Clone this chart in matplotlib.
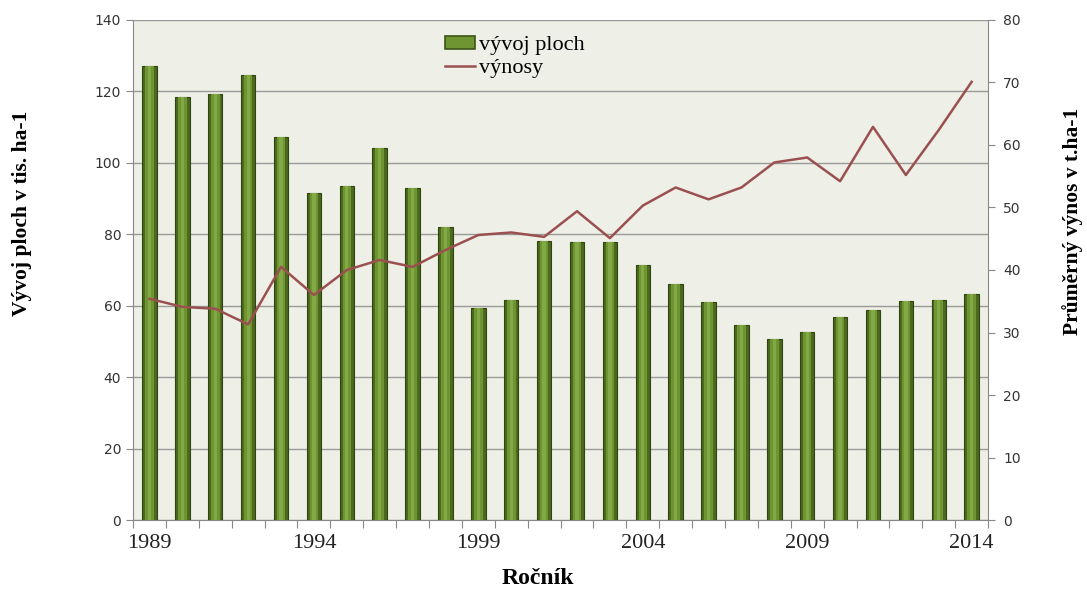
import numpy as np
import matplotlib
matplotlib.use("Agg")
import matplotlib.pyplot as plt
from matplotlib.patches import Patch

# data
years = list(range(1989, 2015))
plochy = [127.1, 118.5, 119.2, 124.7, 107.3, 91.6, 93.5, 104.1, 92.9, 82.0,
          59.5, 61.6, 78.2, 77.9, 77.9, 71.4, 66.0, 61.1, 54.6, 50.8,
          52.6, 56.9, 58.8, 61.3, 61.6, 63.3]
vynosy = [35.4, 34.1, 33.8, 31.3, 40.5, 36.0, 40.0, 41.6, 40.5, 43.2,
          45.6, 46.0, 45.3, 49.4, 45.1, 50.3, 53.2, 51.3, 53.2, 57.2,
          58.0, 54.2, 62.9, 55.2, 62.4, 70.1]
label_years = [1989, 1994, 1999, 2004, 2009, 2014]

serif = "Liberation Serif"

fig = plt.figure(figsize=(10.87, 5.89), dpi=100)
ax = fig.add_axes([0.1224, 0.1171, 0.7866, 0.849])
ax.set_facecolor("#eef0e7")

x = np.arange(len(years))
# cylinder-ish bars: dark base, lighter middle
ax.bar(x, plochy, width=0.44, color="#4b6a1d", edgecolor="#2f4410",
       linewidth=0.8, zorder=3)
ax.bar(x, plochy, width=0.26, color="#6f9432", linewidth=0, zorder=3)
ax.bar(x, plochy, width=0.10, color="#83a846", linewidth=0, zorder=3)
ax.set_xlim(-0.5, len(years) - 0.5)
ax.set_ylim(0, 140)
ax.set_yticks(np.arange(0, 141, 20))
ax.grid(axis="y", color="#9a9a9a", linewidth=1.0, zorder=0)
ax.set_axisbelow(True)

# tick marks between categories, labels under every 5th year
ax.set_xticks(np.arange(-0.5, len(years), 1))
ax.set_xticklabels([])
ax.set_xticks([years.index(y) for y in label_years], minor=True)
ax.set_xticklabels([str(y) for y in label_years], minor=True,
                   fontfamily=serif, fontsize=16, color="#222222")
ax.tick_params(axis="x", which="major", length=6, color="#888888", direction="out")
ax.tick_params(axis="x", which="minor", length=0, pad=10)
ax.tick_params(axis="y", length=5, color="#888888", labelsize=10,
               labelcolor="#333333")

for s in ["top", "right"]:
    ax.spines[s].set_visible(False)
for s in ["left", "bottom"]:
    ax.spines[s].set_color("#888888")

ax2 = ax.twinx()
line, = ax2.plot(x, vynosy, color="#9b5050", linewidth=1.8, zorder=4)
ax2.set_ylim(0, 80)
ax2.set_yticks(np.arange(0, 81, 10))
ax2.tick_params(axis="y", length=5, color="#888888", labelsize=10,
                labelcolor="#333333", pad=6)
for s in ["top", "left", "bottom"]:
    ax2.spines[s].set_visible(False)
ax2.spines["right"].set_color("#888888")

fig.text(22 / 1087, 1 - 213 / 589, "Vývoj ploch v tis. ha-1", rotation=90,
         ha="center", va="center", fontfamily=serif, fontsize=15.5,
         fontweight="bold")
fig.text(1073 / 1087, 1 - 221 / 589, "Průměrný výnos v t.ha-1", rotation=90,
         ha="center", va="center", fontfamily=serif, fontsize=15.5,
         fontweight="bold")
fig.text(538 / 1087, 1 - 578 / 589, "Ročník", ha="center", va="center",
         fontfamily=serif, fontsize=17, fontweight="bold")

bar_handle = Patch(facecolor="#6f9432", edgecolor="#3c5515", linewidth=1.2)
ax.legend([bar_handle, line], ["vývoj ploch", "výnosy"], loc="upper left",
          bbox_to_anchor=(0.347, 1.0), frameon=False,
          prop={"family": serif, "size": 16}, handlelength=1.35,
          handleheight=0.55, handletextpad=0.15, labelspacing=0.15,
          borderaxespad=0.3)

fig.savefig("out.png", dpi=100)
